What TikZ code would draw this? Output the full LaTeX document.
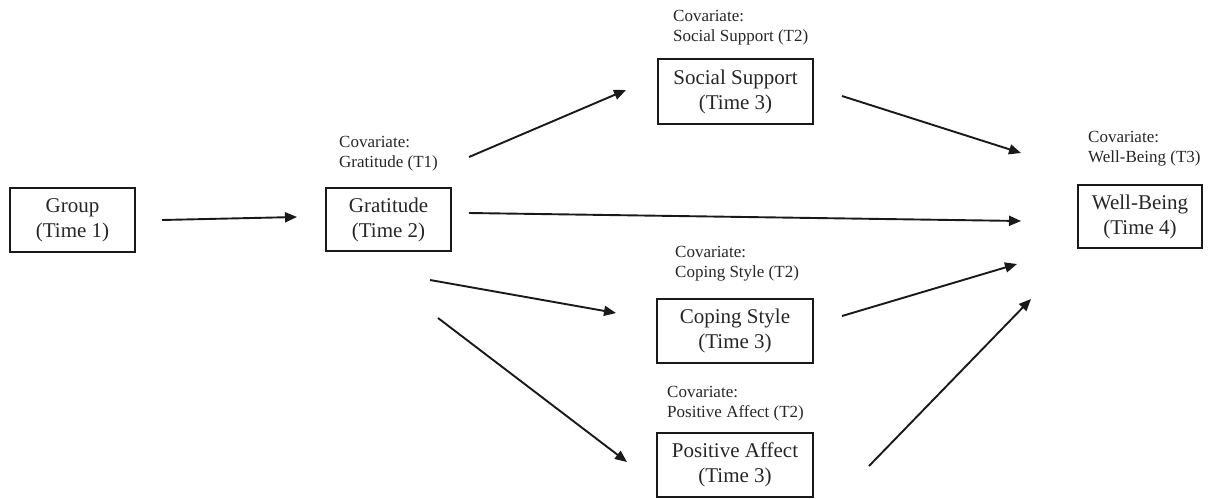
\documentclass[tikz,border=0pt]{standalone}
\usepackage{fontspec}
\setmainfont{Liberation Serif}
\usetikzlibrary{arrows.meta,calc}
\begin{document}
\begin{tikzpicture}[x=1pt,y=-1pt,
  box/.style={draw=black!90, line width=2pt, inner sep=0pt, align=center,
    text=black!85, font=\fontsize{21}{25}\selectfont},
  cov/.style={anchor=base west, inner sep=0pt, align=left, text=black!85,
    font=\fontsize{17}{20}\selectfont},
  arr/.style={line width=1.9pt, draw=black!90, -{Triangle[length=12pt,width=10pt]}}]
\useasboundingbox (0,0) rectangle (1214,498);
% boxes
\node[box, minimum width=125pt, minimum height=64pt] (grp) at (72.5,220) {Group\\(Time 1)};
\node[box, minimum width=125pt, minimum height=63pt] (grat) at (388.5,219.5) {Gratitude\\(Time 2)};
\node[box, minimum width=155pt, minimum height=65pt] (ss) at (735.5,91.5) {Social Support\\(Time 3)};
\node[box, minimum width=156pt, minimum height=64pt] (cop) at (735,331) {Coping Style\\(Time 3)};
\node[box, minimum width=156pt, minimum height=64pt] (pa) at (735,465) {Positive Affect\\(Time 3)};
\node[box, minimum width=124pt, minimum height=63pt] (wb) at (1140,216.5) {Well-Being\\(Time 4)};
% covariate labels (base = baseline of the last line)
\node[cov] (covg) at (339,167) {Covariate:\\Gratitude (T1)};
\node[cov] (covss) at (673,41) {Covariate:\\Social Support (T2)};
\node[cov] (covcop) at (675,277) {Covariate:\\Coping Style (T2)};
\node[cov] (covpa) at (667,417) {Covariate:\\Positive Affect (T2)};
\node[cov] (covwb) at (1088,162) {Covariate:\\Well-Being (T3)};
% arrows
\draw[arr] ($(grp.east)+(26,0)$) -- ($(grat.west)+(-28,-2.5)$);
\draw[arr] ($(grat.north east)+(17,-30)$) -- ($(ss.west)+(-31,-1.5)$);
\draw[arr] ($(ss.east)+(28,4.5)$) -- ($(wb.west)+(-56,-63.5)$);
\draw[arr] ($(grat.east)+(17,-6.5)$) -- ($(wb.west)+(-56,4.5)$);
\draw[arr] ($(grat.south east)+(-22,28)$) -- ($(cop.west)+(-40,-18)$);
\draw[arr] ($(grat.south east)+(-14,66)$) -- ($(pa.west)+(-29,-3)$);
\draw[arr] ($(cop.east)+(28,-15)$) -- ($(wb.west)+(-60,47.5)$);
\draw[arr] ($(pa.east)+(55,1)$) -- ($(wb.west)+(-46,82.5)$);
\end{tikzpicture}
\end{document}
